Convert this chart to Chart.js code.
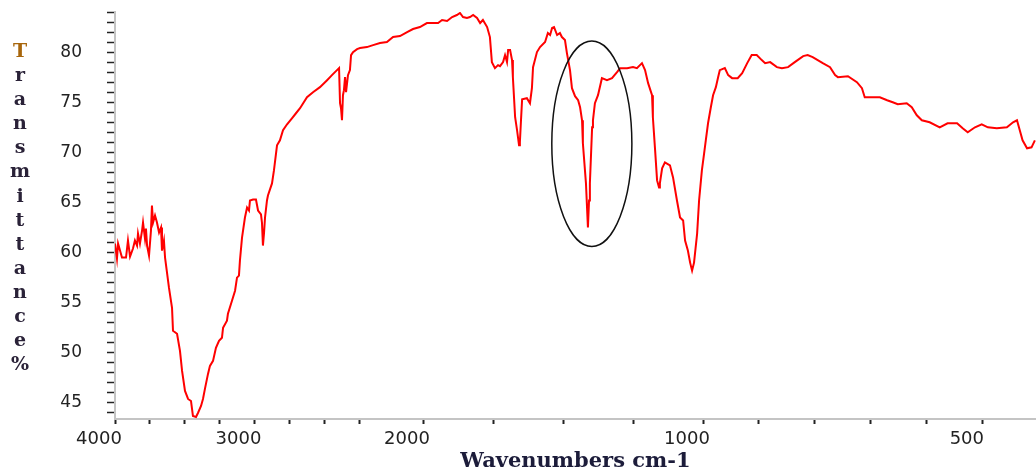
<!DOCTYPE html>
<html>
<head>
<meta charset="utf-8">
<script src="https://cdn.jsdelivr.net/npm/chart.js@4/dist/chart.umd.min.js"></script>
<style>
  html, body { margin: 0; padding: 0; background: #fff; }
  #wrap { width: 1036px; height: 475px; }
</style>
</head>
<body>
<div id="wrap"><canvas id="ftirChart"></canvas></div>
<script>
// ----------------- Spectrum data -----------------
const wavenumbers = [
  4000, 3986, 3978, 3950, 3921, 3907, 3892, 3871, 3857, 3842,
  3835, 3821, 3806, 3799, 3785, 3778, 3770, 3756, 3742, 3735,
  3727, 3713, 3699, 3684, 3670, 3663, 3649, 3641, 3627, 3613,
  3591, 3584, 3555, 3534, 3519, 3498, 3476, 3455, 3441, 3419,
  3405, 3383, 3369, 3355, 3333, 3319, 3297, 3276, 3254, 3233,
  3225, 3197, 3190, 3161, 3139, 3125, 3111, 3104, 3089, 3068,
  3053, 3039, 3032, 3010, 2989, 2974, 2953, 2946, 2939, 2931,
  2924, 2910, 2903, 2874, 2860, 2838, 2817, 2795, 2766, 2731,
  2702, 2673, 2623, 2580, 2530, 2479, 2444, 2408, 2393, 2386,
  2379, 2372, 2365, 2358, 2350, 2343, 2329, 2315, 2307, 2293,
  2264, 2246, 2219, 2195, 2168, 2141, 2117, 2090, 2062, 2039,
  2012, 1986, 1964, 1946, 1932, 1914, 1896, 1879, 1868, 1857,
  1843, 1832, 1821, 1807, 1796, 1786, 1771, 1761, 1754, 1743,
  1732, 1725, 1714, 1707, 1700, 1696, 1689, 1682, 1679, 1671,
  1664, 1657, 1654, 1650, 1646, 1629, 1618, 1611, 1607, 1593,
  1582, 1564, 1554, 1546, 1539, 1532, 1521, 1511, 1504, 1493,
  1486, 1475, 1468, 1457, 1446, 1439, 1432, 1429, 1418, 1411,
  1407, 1404, 1396, 1393, 1386, 1375, 1361, 1343, 1325, 1307,
  1296, 1271, 1250, 1236, 1218, 1207, 1196, 1182, 1179, 1171,
  1164, 1157, 1154, 1146, 1136, 1118, 1107, 1093, 1082, 1071,
  1064, 1054, 1046, 1039, 1032, 1021, 1014, 1004, 998, 995,
  991, 986, 982, 977, 973, 970, 961, 955, 948, 938,
  930, 921, 913, 904, 895, 889, 880, 868, 859, 848,
  836, 821, 813, 804, 786, 773, 764, 759, 741, 725,
  716, 711, 684, 671, 661, 652, 636, 627, 618, 609,
  595, 577, 563, 546, 536, 527, 514, 502, 491, 475,
  457, 446, 439, 434, 429, 421, 413, 407
];

const transmittance = [
  60.9, 59.4, 60.9, 59.5, 59.5, 61.2, 59.6, 60.4, 61.2, 60.7,
  61.9, 60.9, 62.2, 63.0, 61.4, 62.4, 60.7, 59.7, 62.2, 64.7,
  63.0, 63.7, 63.0, 62.0, 62.5, 60.2, 61.2, 59.5, 58.0, 56.5,
  54.5, 52.2, 51.9, 50.2, 48.2, 46.2, 45.4, 45.2, 43.7, 43.6,
  44.0, 44.7, 45.4, 46.4, 47.9, 48.7, 49.2, 50.5, 51.2, 51.5,
  52.5, 53.2, 53.9, 55.2, 56.2, 57.5, 57.7, 59.2, 61.5, 63.5,
  64.5, 64.2, 65.2, 65.3, 65.3, 64.2, 63.8, 63.0, 60.7, 62.0,
  63.5, 65.2, 65.7, 66.9, 68.2, 70.7, 71.2, 72.2, 72.8, 73.4,
  73.9, 74.4, 75.5, 76.0, 76.5, 77.2, 77.7, 78.2, 78.4, 74.9,
  74.4, 73.2, 75.7, 76.2, 77.5, 76.0, 77.7, 78.2, 79.7, 80.0,
  80.3, 80.4, 80.5, 80.7, 80.9, 81.0, 81.5, 81.6, 82.0, 82.3,
  82.5, 82.9, 82.9, 82.9, 83.2, 83.1, 83.5, 83.7, 83.9, 83.5,
  83.4, 83.5, 83.7, 83.4, 82.9, 83.2, 82.5, 81.5, 79.0, 78.4,
  78.7, 78.6, 79.0, 79.7, 79.0, 80.2, 80.2, 79.2, 77.5, 73.5,
  72.2, 70.7, 71.0, 73.2, 75.3, 75.4, 74.9, 76.4, 78.5, 80.0,
  80.5, 81.0, 81.9, 81.7, 82.4, 82.5, 81.7, 81.9, 81.5, 81.2,
  79.9, 78.2, 76.4, 75.6, 75.2, 74.5, 73.2, 70.9, 66.9, 62.5,
  65.2, 66.9, 72.5, 73.2, 74.9, 75.7, 77.4, 77.2, 77.4, 78.0,
  78.4, 78.4, 78.5, 78.4, 78.9, 78.2, 76.9, 75.7, 73.5, 70.2,
  67.2, 66.5, 66.9, 68.4, 69.0, 68.7, 67.5, 65.2, 63.5, 63.2,
  61.2, 60.2, 59.0, 58.2, 59.0, 61.9, 65.2, 68.2, 69.9, 71.2,
  72.9, 74.5, 75.7, 76.5, 77.5, 78.2, 78.4, 77.7, 77.4, 77.4,
  77.9, 78.9, 79.7, 79.7, 79.2, 78.9, 79.0, 78.5, 78.4, 78.5,
  79.0, 79.6, 79.7, 79.5, 78.9, 78.5, 77.7, 77.5, 77.6, 77.0,
  76.4, 75.5, 75.5, 75.2, 75.0, 74.8, 74.9, 74.5, 73.7, 73.2,
  73.0, 72.5, 72.9, 72.9, 72.4, 72.0, 72.5, 72.8, 72.5, 72.4,
  72.5, 73.0, 73.2, 72.2, 71.2, 70.4, 70.5, 71.2
];

// axis ticks
const xTickValues = [4000, 3750, 3500, 3250, 3000, 2750, 2500, 2250, 2000,
                     1750, 1500, 1250, 1000, 900, 800, 700, 600, 500];
const xTickLabels = ['4000', '3000', '2000', '1000', '500'];
const yMin = 43.4, yMax = 84;

// the instrument's wavenumber axis changes scale in pieces
const axisBreaks = [4000, 2250, 2000, 1000, 405];
const axisWeights = [244, 64, 280, 333];

// circled band
const circled = { from: 1540, to: 1254, low: 60.6, high: 81.1 };

const yTitle = 'Transmittance%';
const xTitle = 'Wavenumbers cm-1';

// ----------------- Piecewise wavenumber scale -----------------
class FtirScale extends Chart.LinearScale {
  toDecimal(v) {
    const total = axisWeights.reduce((a, b) => a + b, 0);
    let acc = 0;
    for (let i = 0; i < axisWeights.length; i++) {
      const hi = axisBreaks[i], lo = axisBreaks[i + 1];
      if (v >= lo || i === axisWeights.length - 1) {
        return (acc + (hi - v) / (hi - lo) * axisWeights[i]) / total;
      }
      acc += axisWeights[i];
    }
  }
  getPixelForValue(v) {
    return v == null ? NaN : this.getPixelForDecimal(this.toDecimal(v));
  }
  getValueForPixel(px) {
    const total = axisWeights.reduce((a, b) => a + b, 0);
    let d = this.getDecimalForPixel(px) * total;
    for (let i = 0; i < axisWeights.length; i++) {
      if (d <= axisWeights[i] || i === axisWeights.length - 1) {
        const hi = axisBreaks[i], lo = axisBreaks[i + 1];
        return hi - d / axisWeights[i] * (hi - lo);
      }
      d -= axisWeights[i];
    }
  }
}
FtirScale.id = 'ftir';
FtirScale.defaults = Chart.LinearScale.defaults;
Chart.register(FtirScale);

// ----------------- Small drawing plugins -----------------
const circlePlugin = {
  id: 'circlePlugin',
  afterDatasetsDraw(chart) {
    const { ctx, scales: { x, y } } = chart;
    const x1 = x.getPixelForValue(circled.from), x2 = x.getPixelForValue(circled.to);
    const y1 = y.getPixelForValue(circled.high), y2 = y.getPixelForValue(circled.low);
    ctx.save();
    ctx.strokeStyle = '#111';
    ctx.lineWidth = 1.5;
    ctx.beginPath();
    ctx.ellipse((x1 + x2) / 2, (y1 + y2) / 2, Math.abs(x2 - x1) / 2, Math.abs(y2 - y1) / 2, 0, 0, Math.PI * 2);
    ctx.stroke();
    ctx.restore();
  }
};

const stackedTitle = {
  id: 'stackedTitle',
  afterDraw(chart) {
    const ctx = chart.ctx;
    ctx.save();
    ctx.font = 'bold 19px "DejaVu Serif", serif';
    ctx.textAlign = 'center';
    ctx.textBaseline = 'middle';
    Array.from(yTitle).forEach((ch, i) => {
      ctx.fillStyle = i === 0 ? '#a8660c' : '#2a2238';
      ctx.fillText(ch, 20, 52 + i * 24.1);
    });
    ctx.restore();
  }
};

// ----------------- Chart -----------------
const ctx = document.getElementById('ftirChart').getContext('2d');
new Chart(ctx, {
  type: 'line',
  data: {
    datasets: [{
      data: wavenumbers.map((w, i) => ({ x: w, y: transmittance[i] })),
      borderColor: '#ff0000',
      borderWidth: 2,
      pointRadius: 0,
      tension: 0,
      fill: false
    }]
  },
  options: {
    responsive: true,
    maintainAspectRatio: false,
    animation: false,
    layout: { padding: { top: 12, right: 0, left: 0, bottom: 0 } },
    plugins: {
      legend: { display: false },
      tooltip: { enabled: false }
    },
    scales: {
      x: {
        type: 'ftir',
        min: 405,
        max: 4000,
        afterFit: s => {
          s.height = 56;
          s.paddingLeft = 0;
          s.paddingRight = 0;
        },
        afterBuildTicks: s => { s.ticks = xTickValues.map(v => ({ value: v })); },
        border: { display: true, color: '#c4c4c4', width: 2 },
        grid: { display: true, drawOnChartArea: false, tickLength: 5, tickColor: '#222', tickWidth: 2 },
        ticks: {
          autoSkip: false,
          maxRotation: 0,
          padding: 5,
          labelOffset: -16,
          color: '#222',
          font: { family: '"DejaVu Sans", sans-serif', size: 18 },
          callback: v => xTickLabels.includes(String(v)) ? String(v) : ''
        },
        title: {
          display: true,
          text: xTitle,
          color: '#1c1c3a',
          font: { family: '"DejaVu Serif", serif', size: 21, weight: 'bold' },
          padding: { top: 0, bottom: 1 }
        }
      },
      y: {
        min: yMin,
        max: yMax,
        afterFit: s => {
          s.width = 115;
          s.paddingTop = 0;
          s.paddingBottom = 0;
        },
        afterBuildTicks: s => {
          const t = [];
          for (let v = 44; v <= 84; v++) t.push({ value: v });
          s.ticks = t;
        },
        border: { display: true, color: '#c4c4c4', width: 2 },
        grid: { display: true, drawOnChartArea: false, tickLength: 8, tickColor: '#222', tickWidth: 1.5 },
        ticks: {
          autoSkip: false,
          padding: 25,
          color: '#222',
          font: { family: '"DejaVu Sans", sans-serif', size: 17 },
          callback: v => v % 5 === 0 ? String(v) : ''
        }
      }
    }
  },
  plugins: [circlePlugin, stackedTitle]
});
</script>
</body>
</html>
